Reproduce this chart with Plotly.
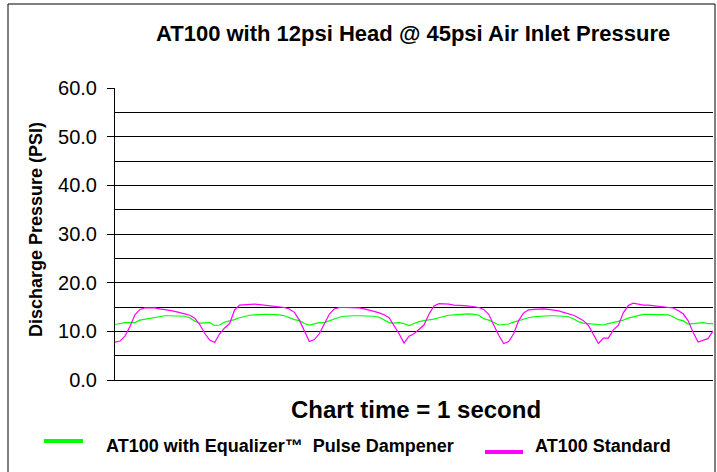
import plotly.graph_objects as go

standard = [7.8, 8.0, 9.0, 11.0, 13.4, 14.5, 14.8, 14.8, 14.8, 14.6, 14.5, 14.3, 14.1, 13.9, 13.6, 13.3, 12.7, 11.4, 9.6, 8.2, 7.7,
            9.5, 10.7, 11.6, 14.4, 15.4, 15.5, 15.6, 15.6, 15.5, 15.4, 15.3, 15.2, 15.1, 14.9, 14.6, 13.9, 12.3, 10.0, 7.9, 8.3,
            9.5, 11.5, 13.5, 14.6, 14.9, 14.9, 14.9, 14.8, 14.8, 14.6, 14.4, 14.1, 13.8, 13.4, 12.8, 11.2, 9.5, 7.6, 9.0, 9.5,
            10.5, 11.3, 13.5, 15.2, 15.7, 15.7, 15.6, 15.4, 15.4, 15.3, 15.2, 15.1, 14.9, 14.5, 13.5, 11.3, 9.2, 7.5, 7.9, 9.5,
            12.2, 13.8, 14.4, 14.5, 14.6, 14.6, 14.5, 14.4, 14.2, 13.9, 13.6, 13.3, 12.8, 12.2, 11.2, 9.2, 7.5, 8.6, 8.6, 10.3,
            11.2, 13.8, 15.3, 15.8, 15.6, 15.4, 15.4, 15.3, 15.2, 15.1, 15.0, 14.8, 14.3, 13.6, 12.2, 9.8, 7.8, 8.2, 8.5, 10.1]
equalizer = [11.4, 11.6, 11.8, 11.8, 11.8, 12.3, 12.5, 12.7, 12.9, 13.1, 13.2, 13.2, 13.2, 13.2, 13.1, 12.8, 12.1, 11.7, 11.8, 11.8, 11.2,
             11.3, 11.9, 12.1, 12.4, 12.8, 13.1, 13.3, 13.4, 13.5, 13.5, 13.5, 13.5, 13.4, 13.2, 12.8, 12.4, 12.2, 11.6, 11.3, 11.6,
             11.8, 11.8, 12.2, 12.6, 12.9, 13.1, 13.2, 13.2, 13.2, 13.2, 13.2, 13.1, 12.9, 12.4, 11.8, 11.7, 11.8, 11.6, 11.2, 11.6,
             12.0, 12.2, 12.3, 12.5, 12.8, 13.1, 13.3, 13.4, 13.5, 13.6, 13.6, 13.5, 13.3, 12.6, 12.3, 11.8, 11.3, 11.4, 11.5, 11.9,
             12.2, 12.6, 12.8, 13.0, 13.1, 13.2, 13.2, 13.2, 13.2, 13.1, 13.0, 12.6, 12.0, 11.7, 11.6, 11.5, 11.3, 11.3, 11.6, 11.8,
             12.1, 12.3, 12.7, 13.0, 13.3, 13.5, 13.5, 13.5, 13.5, 13.5, 13.4, 13.0, 12.4, 12.2, 11.5, 11.6, 11.7, 11.8, 11.6, 11.6]
time_s = [i / (len(standard) - 1) for i in range(len(standard))]

y_ticks = [0, 10, 20, 30, 40, 50, 60]
y_tick_labels = ["0.0", "10.0", "20.0", "30.0", "40.0", "50.0", "60.0"]

title_text = "AT100 with 12psi Head @ 45psi Air Inlet Pressure"
y_title = "Discharge Pressure (PSI)"
x_title = "Chart time = 1 second"
name_eq = "AT100 with Equalizer\u2122  Pulse Dampener"
name_std = "AT100 Standard"

GREEN = "#00FF00"
MAGENTA = "#FF00FF"
FONT = "Liberation Sans, Arial, sans-serif"

W, H = 717, 472
L, R, T, B = 115, 4, 88, 92
PW, PH = W - L - R, H - T - B


def px(xpix):
    return (xpix - L) / PW


def py(ypix):
    return (H - B - ypix) / PH


fig = go.Figure()
fig.add_trace(go.Scatter(x=time_s, y=equalizer, mode="lines", name=name_eq,
                         line=dict(color=GREEN, width=1.2), showlegend=False))
fig.add_trace(go.Scatter(x=time_s, y=standard, mode="lines", name=name_std,
                         line=dict(color=MAGENTA, width=1.2), showlegend=False))

fig.update_layout(
    width=W, height=H,
    margin=dict(l=L, r=R, t=T, b=B, pad=0),
    paper_bgcolor="white", plot_bgcolor="white",
    font=dict(family=FONT, color="black"),
    xaxis=dict(range=[0, 1], showgrid=False, zeroline=False, showticklabels=False,
               ticks="", showline=True, linecolor="black", linewidth=1, fixedrange=True),
    yaxis=dict(range=[0, 60], tickvals=y_ticks, ticktext=y_tick_labels,
               ticks="outside", ticklen=7, tickcolor="black", tickwidth=1,
               ticklabelstandoff=6,
               showline=True, linecolor="black", linewidth=1,
               showgrid=True, gridcolor="black", gridwidth=1, zeroline=False,
               minor=dict(dtick=5, showgrid=True, gridcolor="black", gridwidth=1, ticks=""),
               tickfont=dict(size=20, family=FONT, color="black"), fixedrange=True),
    showlegend=False,
)

# outer chart frame
fig.add_shape(type="rect", xref="paper", yref="paper",
              x0=px(8), x1=px(715), y0=py(490), y1=py(4),
              line=dict(color="black", width=1), fillcolor="rgba(0,0,0,0)", layer="below")

# title
fig.add_annotation(text="<b>" + title_text + "</b>", xref="paper", yref="paper",
                   x=px(413), y=py(33), showarrow=False, font=dict(size=22, family=FONT),
                   xanchor="center", yanchor="middle")
# y title
fig.add_annotation(text="<b>" + y_title + "</b>", xref="paper", yref="paper",
                   x=px(36), y=py(230), showarrow=False, textangle=-90,
                   font=dict(size=18, family=FONT), xanchor="center", yanchor="middle")
# x title
fig.add_annotation(text="<b>" + x_title + "</b>", xref="paper", yref="paper",
                   x=px(416), y=py(409), showarrow=False, font=dict(size=24, family=FONT),
                   xanchor="center", yanchor="middle")

# legend (manual)
fig.add_shape(type="line", xref="paper", yref="paper", x0=px(44), x1=px(83), y0=py(441), y1=py(441),
              line=dict(color=GREEN, width=4))
fig.add_annotation(text="<b>" + name_eq.replace("  ", "&nbsp; ") + "</b>", xref="paper", yref="paper",
                   x=px(104), y=py(446), showarrow=False, font=dict(size=18, family=FONT),
                   xanchor="left", yanchor="middle")
fig.add_shape(type="line", xref="paper", yref="paper", x0=px(485), x1=px(523), y0=py(452), y1=py(452),
              line=dict(color=MAGENTA, width=4))
fig.add_annotation(text="<b>" + name_std + "</b>", xref="paper", yref="paper",
                   x=px(533), y=py(446), showarrow=False, font=dict(size=18, family=FONT),
                   xanchor="left", yanchor="middle")

fig.write_html("out.html", config={"displayModeBar": False},
               post_script="document.body.style.margin='0px';document.body.style.padding='0px';")
